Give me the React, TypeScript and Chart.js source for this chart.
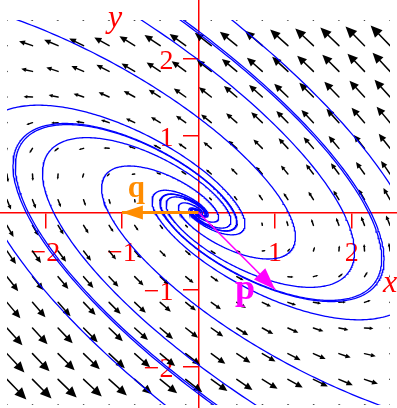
import { useEffect, useRef } from 'react';
import { Chart, registerables } from 'chart.js';

Chart.register(...registerables);

const W = 397;
const H = 408;

// visible data window of the canvas, and the phase-portrait window inside it
const X_RANGE = [-2.591, 2.591];
const Y_RANGE = [-2.539, 2.76];
const VIEW = [-2.5, 2.5];

const TICKS = [-2, -1, 1, 2];

// linear system x' = A x, with complex eigenvalue ALPHA ± i BETA and
// eigenvector parts P and Q:  A P = ALPHA P - BETA Q,  A Q = BETA P + ALPHA Q
const ALPHA = 0.25;
const BETA = 0.5;
const P_VEC = [1, -1];
const Q_VEC = [-1, 0];

// direction-field grid
const GRID_X = [-2.5, -2.167, -1.833, -1.5, -1.167, -0.833, -0.5, -0.167, 0.167, 0.5, 0.833, 1.167, 1.5, 1.833, 2.167, 2.5];
const GRID_Y = [-2.5, -2.167, -1.833, -1.5, -1.167, -0.833, -0.5, -0.167, 0.167, 0.5, 0.833, 1.167, 1.5, 1.833, 2.167, 2.5];

// trajectories: points where each crosses the y-axis
const SEED_X = [0, 0, 0, 0, 0, 0, 0, 0, 0, 0];
const SEED_Y = [2.355, 2.325, 1.98, 1.23, 0.59, -0.59, -1.23, -1.98, -2.325, -2.355];

const RED = '#ff0000';
const BLUE = '#0000ff';
const ORANGE = '#ff8c00';
const MAGENTA = '#ff00ff';

const LABELS = [
  { text: 'y', x: -1.09, y: 2.41, font: 'italic 32px "Liberation Serif"', color: RED },
  { text: 'x', x: 2.5, y: -1.03, font: 'italic 32px "Liberation Serif"', color: RED },
  { text: 'q', x: -0.81, y: 0.2, font: 'bold 31px "Liberation Serif"', color: ORANGE },
  { text: 'p', x: 0.607, y: -1.12, font: 'bold 36px "Liberation Serif"', color: MAGENTA },
];

function toUV(x: number, y: number) {
  const det = P_VEC[0] * Q_VEC[1] - Q_VEC[0] * P_VEC[1];
  return [(x * Q_VEC[1] - Q_VEC[0] * y) / det, (P_VEC[0] * y - P_VEC[1] * x) / det];
}

function field(x: number, y: number) {
  const [u, v] = toUV(x, y);
  const du = ALPHA * u + BETA * v;
  const dv = -BETA * u + ALPHA * v;
  return [du * P_VEC[0] + dv * Q_VEC[0], du * P_VEC[1] + dv * Q_VEC[1]];
}

function trajectory(x0: number, y0: number) {
  const [u0, v0] = toUV(x0, y0);
  const r0 = Math.hypot(u0, v0);
  const tMin = Math.log(0.008 / r0) / ALPHA;
  const tMax = Math.log(7 / r0) / ALPHA;
  const pts: { x: number; y: number }[] = [];
  for (let t = tMin; t <= tMax; t += 0.03) {
    const g = Math.exp(ALPHA * t);
    const c = Math.cos(BETA * t);
    const s = Math.sin(BETA * t);
    const u = g * (u0 * c + v0 * s);
    const v = g * (-u0 * s + v0 * c);
    pts.push({ x: u * P_VEC[0] + v * Q_VEC[0], y: u * P_VEC[1] + v * Q_VEC[1] });
  }
  return pts;
}

const fmt = (v: number) => (v < 0 ? '\u2212' + Math.abs(v) : String(v));

function viewBox(chart: any) {
  const xs = chart.scales.x;
  const ys = chart.scales.y;
  const l = xs.getPixelForValue(VIEW[0]);
  const r = xs.getPixelForValue(VIEW[1]);
  const t = ys.getPixelForValue(VIEW[1]);
  const b = ys.getPixelForValue(VIEW[0]);
  return { l, r, t, b };
}

const fieldPlugin = {
  id: 'fieldArrows',
  beforeDatasetsDraw(chart: any) {
    const ds = chart.data.datasets.find((d: any) => d.label === 'field');
    if (!ds) return;
    const xs = chart.scales.x;
    const ys = chart.scales.y;
    const ctx = chart.ctx as CanvasRenderingContext2D;
    const { l, r, t, b } = viewBox(chart);
    ctx.save();
    ctx.beginPath();
    ctx.rect(l, t, r - l, b - t);
    ctx.clip();
    ctx.strokeStyle = '#000';
    ctx.fillStyle = '#000';
    ctx.lineWidth = 1.5;
    ctx.lineCap = 'round';
    for (const pt of ds.data) {
      const [vx, vy] = field(pt.x, pt.y);
      const px = xs.getPixelForValue(pt.x);
      const py = ys.getPixelForValue(pt.y);
      const ex = xs.getPixelForValue(pt.x + vx) - px;
      const ey = ys.getPixelForValue(pt.y + vy) - py;
      const n = Math.hypot(ex, ey);
      if (n === 0) continue;
      const dx = ex / n;
      const dy = ey / n;
      const L = 9.2 * Math.pow(Math.hypot(vx, vy), 0.8);
      const hl = 0.42 * L;
      const hw = 0.19 * L;
      const bx = px + dx * (L - hl);
      const by = py + dy * (L - hl);
      ctx.beginPath();
      ctx.moveTo(px, py);
      ctx.lineTo(bx, by);
      ctx.stroke();
      ctx.beginPath();
      ctx.moveTo(px + dx * L, py + dy * L);
      ctx.lineTo(bx - dy * hw, by + dx * hw);
      ctx.lineTo(bx + dy * hw, by - dx * hw);
      ctx.closePath();
      ctx.fill();
    }
    ctx.restore();
  },
  afterDatasetsDraw(chart: any) {
    const xs = chart.scales.x;
    const ys = chart.scales.y;
    const ctx = chart.ctx as CanvasRenderingContext2D;
    ctx.save();
    // arrowheads of p and q
    for (const ds of chart.data.datasets) {
      if (!ds.head) continue;
      const d = ds.data;
      const x1 = xs.getPixelForValue(d[d.length - 1].x);
      const y1 = ys.getPixelForValue(d[d.length - 1].y);
      const x0 = xs.getPixelForValue(d[0].x);
      const y0 = ys.getPixelForValue(d[0].y);
      const n = Math.hypot(x1 - x0, y1 - y0);
      const dx = (x1 - x0) / n;
      const dy = (y1 - y0) / n;
      const [hl, hw] = ds.head;
      const bx = x1 - dx * hl;
      const by = y1 - dy * hl;
      ctx.fillStyle = ds.borderColor;
      ctx.beginPath();
      ctx.moveTo(x1, y1);
      ctx.lineTo(bx - dy * hw, by + dx * hw);
      ctx.lineTo(bx + dy * hw, by - dx * hw);
      ctx.closePath();
      ctx.fill();
    }
    ctx.textAlign = 'center';
    ctx.textBaseline = 'alphabetic';
    for (const lb of LABELS) {
      ctx.font = lb.font;
      ctx.fillStyle = lb.color;
      ctx.fillText(lb.text, xs.getPixelForValue(lb.x), ys.getPixelForValue(lb.y));
    }
    ctx.restore();
  },
};

export default function App() {
  const ref = useRef<HTMLCanvasElement | null>(null);

  useEffect(() => {
    document.body.style.margin = '0';
    const canvas = ref.current;
    if (!canvas) return;

    const clip = {
      left: -((VIEW[0] - X_RANGE[0]) / (X_RANGE[1] - X_RANGE[0])) * W,
      right: -((X_RANGE[1] - VIEW[1]) / (X_RANGE[1] - X_RANGE[0])) * W,
      top: -((Y_RANGE[1] - VIEW[1]) / (Y_RANGE[1] - Y_RANGE[0])) * H,
      bottom: -((VIEW[0] - Y_RANGE[0]) / (Y_RANGE[1] - Y_RANGE[0])) * H,
    };

    const fieldPts: { x: number; y: number }[] = [];
    for (const gx of GRID_X) for (const gy of GRID_Y) fieldPts.push({ x: gx, y: gy });

    const trajSets = SEED_X.map((sx, i) => ({
      label: 'traj' + i,
      data: trajectory(sx, SEED_Y[i]),
      showLine: true,
      borderColor: BLUE,
      borderWidth: 1.3,
      pointRadius: 0,
      tension: 0,
      clip,
    }));

    const axisCommon = (extra: any) => ({
      type: 'linear',
      afterBuildTicks: (axis: any) => {
        axis.ticks = TICKS.map((v) => ({ value: v }));
      },
      afterFit: (axis: any) => {
        if (axis.isHorizontal()) axis.height = 0;
        else axis.width = 0;
        axis.paddingLeft = axis.paddingRight = axis.paddingTop = axis.paddingBottom = 0;
      },
      grid: {
        display: true,
        drawOnChartArea: false,
        drawTicks: true,
        tickLength: 15,
        color: RED,
        tickColor: RED,
        lineWidth: 1.5,
        tickWidth: 1.5,
      },
      border: { display: true, color: RED, width: 1.5 },
      ...extra,
    });

    const chart = new Chart(canvas, {
      type: 'scatter',
      data: {
        datasets: [
          {
            label: 'p',
            data: [{ x: 0, y: 0 }, { x: P_VEC[0], y: P_VEC[1] }],
            showLine: true,
            borderColor: MAGENTA,
            borderWidth: 1.6,
            pointRadius: 0,
            head: [22, 8],
          } as any,
          {
            label: 'q',
            data: [{ x: 0, y: 0 }, { x: Q_VEC[0], y: Q_VEC[1] }],
            showLine: true,
            borderColor: ORANGE,
            borderWidth: 3,
            pointRadius: 0,
            head: [21, 7],
          } as any,
          ...trajSets,
          {
            label: 'field',
            data: fieldPts,
            showLine: false,
            pointRadius: 0,
          },
        ],
      },
      options: {
        animation: false,
        responsive: false,
        devicePixelRatio: 1,
        layout: { padding: 0, autoPadding: false },
        plugins: { legend: { display: false }, tooltip: { enabled: false } },
        events: [],
        scales: {
          x: axisCommon({
            position: { y: 0 },
            min: X_RANGE[0],
            max: X_RANGE[1],
            ticks: {
              autoSkip: false,
              maxRotation: 0,
              padding: 9,
              color: RED,
              font: { family: 'Liberation Serif', size: 28 },
              callback: (v: any) => fmt(Number(v)),
            },
          }),
          y: axisCommon({
            position: 'center',
            min: Y_RANGE[0],
            max: Y_RANGE[1],
            ticks: {
              autoSkip: false,
              padding: 10,
              labelOffset: 3,
              color: RED,
              font: { family: 'Liberation Serif', size: 28 },
              callback: (v: any) => fmt(Number(v)),
            },
          }),
        },
      } as any,
      plugins: [fieldPlugin],
    });

    return () => chart.destroy();
  }, []);

  return <canvas ref={ref} width={W} height={H} style={{ display: 'block' }} />;
}
